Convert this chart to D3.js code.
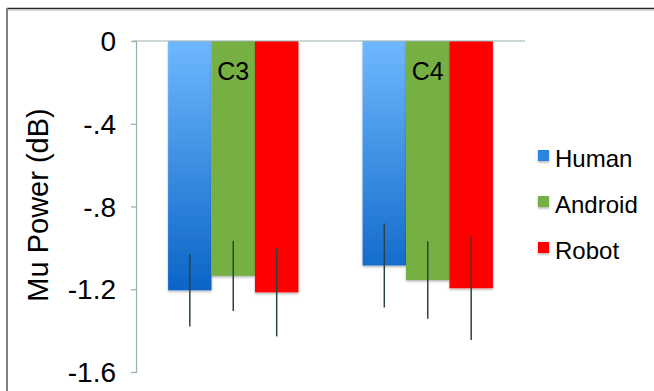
<!DOCTYPE html>
<html>
<head>
<meta charset="utf-8">
<style>
  body { margin: 0; background: #fff; }
  text { font-family: "Liberation Sans", Arial, Helvetica, sans-serif; fill: #000; }
</style>
</head>
<body>
<svg width="654" height="391"></svg>
<script src="https://d3js.org/d3.v7.min.js"></script>
<script>

var categories = ["C3", "C4"];
var series = ["Human", "Android", "Robot"];

// mean mu power per category, one array per series
var human = [-1.205, -1.085];
var android = [-1.135, -1.155];
var robot = [-1.215, -1.195];

// error bar half lengths
var humanErr = [0.175, 0.203];
var androidErr = [0.17, 0.187];
var robotErr = [0.213, 0.25];

var yTicks = [0, -0.4, -0.8, -1.2, -1.6];
var yTickLabels = ["0", "-.4", "-.8", "-1.2", "-1.6"];

var colors = { Human: "url(#humanGrad)", Android: "#76b043", Robot: "#ff0000" };

var values = { Human: human, Android: android, Robot: robot };
var errs = { Human: humanErr, Android: androidErr, Robot: robotErr };

var data = [];
categories.forEach(function(c, i) {
  series.forEach(function(s) {
    data.push({ cat: c, series: s, value: values[s][i], err: errs[s][i] });
  });
});

var svg = d3.select("svg");

var defs = svg.append("defs");
var grad = defs.append("linearGradient")
  .attr("id", "humanGrad")
  .attr("gradientUnits", "userSpaceOnUse")
  .attr("x1", 0).attr("y1", 41).attr("x2", 0).attr("y2", 290);
grad.append("stop").attr("offset", "0%").attr("stop-color", "#6fb8ff");
grad.append("stop").attr("offset", "100%").attr("stop-color", "#0b64c6");

var shadow = defs.append("filter").attr("id", "shadow")
  .attr("x", "-10%").attr("y", "-10%").attr("width", "130%").attr("height", "130%");
shadow.append("feDropShadow")
  .attr("dx", 0).attr("dy", 1.5).attr("stdDeviation", 1.2)
  .attr("flood-color", "#000").attr("flood-opacity", 0.3);

// frame
svg.append("line").attr("x1", 7).attr("x2", 654).attr("y1", 8.5).attr("y2", 8.5)
  .attr("stroke", "#2b2b2b").attr("stroke-width", 1.6);
svg.append("line").attr("x1", 7).attr("x2", 654).attr("y1", 10).attr("y2", 10)
  .attr("stroke", "#bbb").attr("stroke-width", 1);
svg.append("line").attr("x1", 7).attr("x2", 7).attr("y1", 8).attr("y2", 391)
  .attr("stroke", "#808080").attr("stroke-width", 2);

var x0 = d3.scaleBand()
  .domain(categories)
  .range([136, 525])
  .paddingInner(0.33)
  .paddingOuter(0.165);

var x1 = d3.scaleBand()
  .domain(series)
  .range([0, x0.bandwidth()]);

var y = d3.scaleLinear()
  .domain([-1.6, 0])
  .range([372, 41]);

// bars
svg.append("g").selectAll("rect")
  .data(data)
  .join("rect")
  .attr("x", function(d) { return x0(d.cat) + x1(d.series); })
  .attr("y", y(0))
  .attr("width", x1.bandwidth())
  .attr("height", function(d) { return y(d.value) - y(0); })
  .attr("fill", function(d) { return colors[d.series]; })
  .attr("filter", "url(#shadow)");

// error bars
svg.append("g").selectAll("line")
  .data(data)
  .join("line")
  .attr("x1", function(d) { return x0(d.cat) + x1(d.series) + x1.bandwidth() / 2; })
  .attr("x2", function(d) { return x0(d.cat) + x1(d.series) + x1.bandwidth() / 2; })
  .attr("y1", function(d) { return y(d.value + d.err); })
  .attr("y2", function(d) { return y(d.value - d.err); })
  .attr("stroke", "#2a4444")
  .attr("stroke-width", 1.5);

// top category line at zero
svg.append("line")
  .attr("x1", 133).attr("x2", 525)
  .attr("y1", y(0)).attr("y2", y(0))
  .attr("stroke", "#9aaeae").attr("stroke-width", 1.2);

// y axis
var yAxis = d3.axisLeft(y)
  .tickValues(yTicks)
  .tickFormat(function(d, i) { return yTickLabels[i]; })
  .tickSize(5)
  .tickPadding(15);

var yg = svg.append("g")
  .attr("transform", "translate(136,0)")
  .call(yAxis);
yg.select(".domain").attr("stroke", "#9aaeae").attr("stroke-width", 1.2);
yg.selectAll(".tick line").attr("stroke", "#9aaeae").attr("stroke-width", 1.2);
yg.selectAll(".tick text")
  .style("font-family", "'Liberation Sans', Arial, sans-serif")
  .style("font-size", "28px")
  .attr("fill", "#000")
  .attr("dy", "0.34em");

// y axis title
svg.append("text")
  .attr("transform", "translate(48,205) rotate(-90)")
  .attr("text-anchor", "middle")
  .style("font-size", "29px")
  .text("Mu Power (dB)");

// category labels
svg.append("g").selectAll("text")
  .data(categories)
  .join("text")
  .attr("x", function(d) { return x0(d) + x0.bandwidth() / 2; })
  .attr("y", 80)
  .attr("text-anchor", "middle")
  .style("font-size", "25px")
  .text(function(d) { return d; });

// legend
var legend = svg.append("g").selectAll("g")
  .data(series)
  .join("g")
  .attr("transform", function(d, i) { return "translate(538," + (167 + i * 46) + ")"; });

legend.append("rect")
  .attr("x", 0).attr("y", -17)
  .attr("width", 11).attr("height", 11)
  .attr("fill", function(d) { return d === "Human" ? "#2a86e0" : colors[d]; })
  .attr("filter", "url(#shadow)");

legend.append("text")
  .attr("x", 17).attr("y", 0)
  .style("font-size", "24px")
  .text(function(d) { return d; });

</script>
</body>
</html>
